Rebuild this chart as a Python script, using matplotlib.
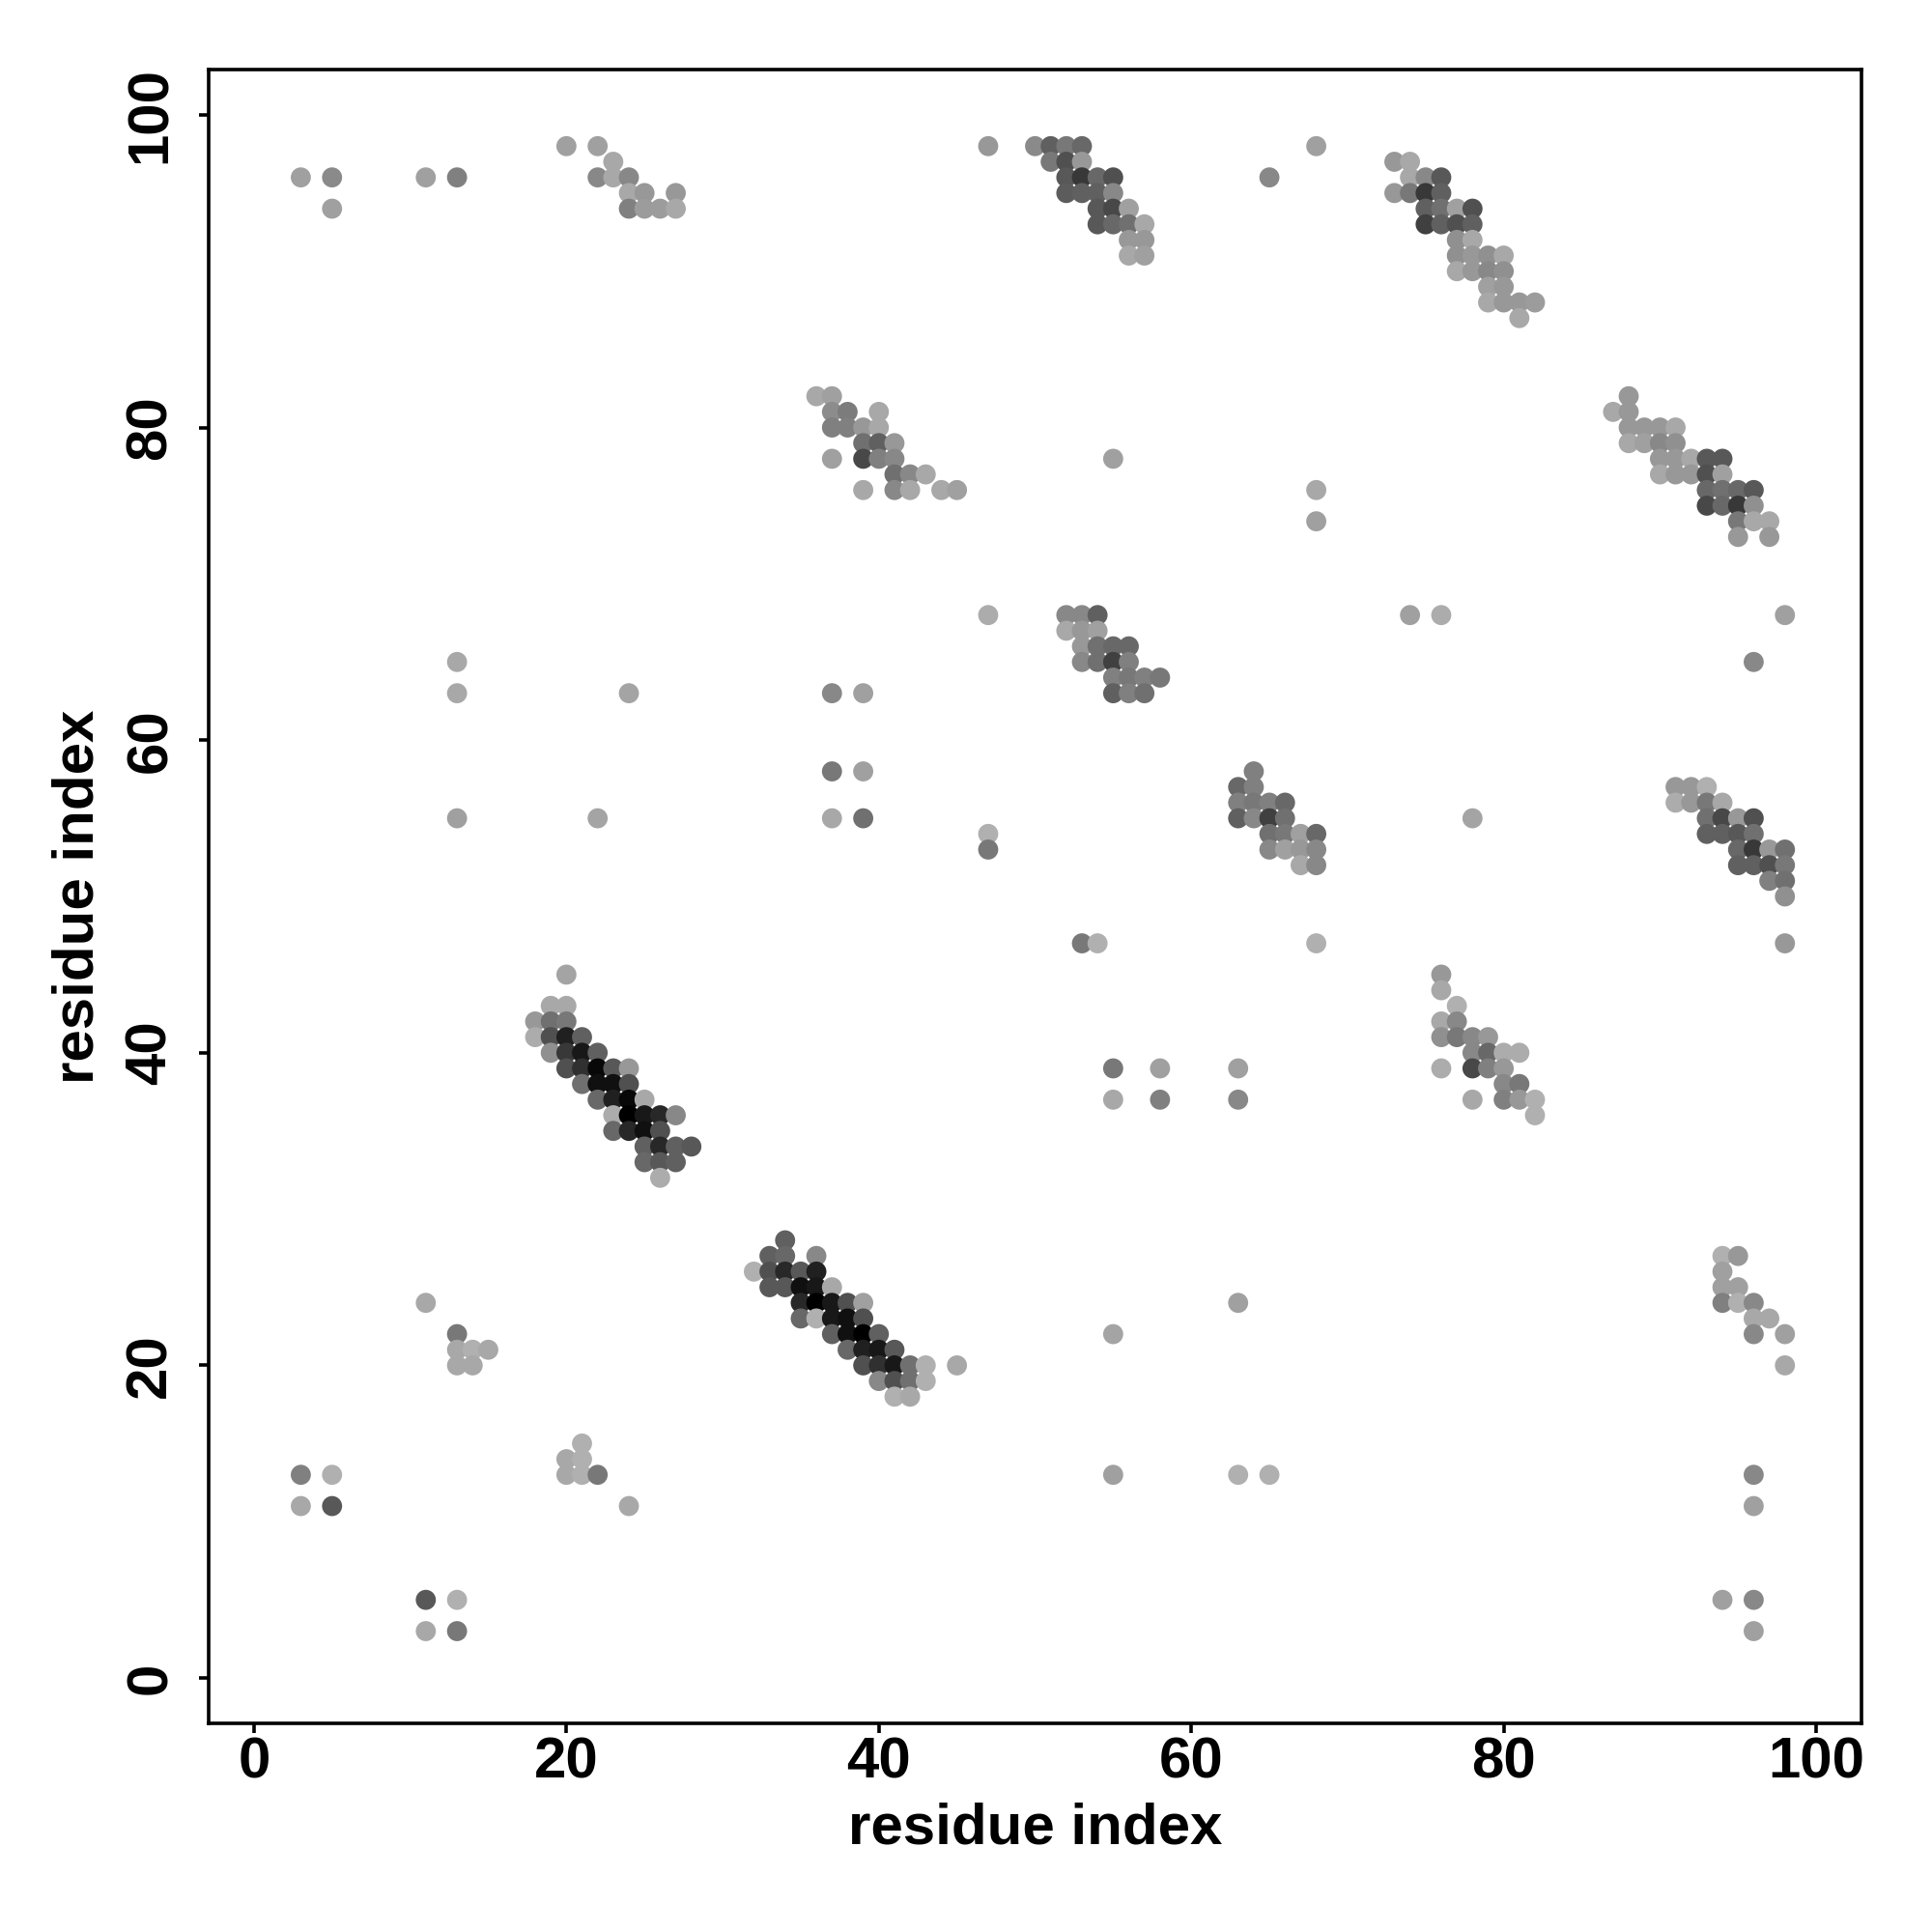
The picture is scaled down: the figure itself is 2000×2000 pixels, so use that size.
import matplotlib
matplotlib.use("Agg")
import matplotlib.pyplot as plt

# contact map: residue i (x), residue j (y), grey shade of the dot (0 = black, 255 = white)
res_i = [
    3, 5, 5, 11, 13,
    20, 22, 23, 22, 23, 24, 24, 25, 27, 24, 25, 26, 27,
    47, 50, 51, 52, 53, 51, 52, 53, 52, 53, 54, 55, 52, 53, 54, 55, 54, 55, 56, 54, 55, 56, 57, 56, 57, 56, 57, 65, 68,
    36, 37, 37, 38, 40, 37, 38, 39, 40, 39, 40, 41, 37, 39, 40, 41, 41, 42, 43, 39, 41, 42, 44, 45, 55, 68, 68,
    47, 52, 53, 54, 52, 53, 54,
    53, 54, 55, 56, 53, 54, 55, 56, 55, 56, 57, 58, 55, 56, 57,
    73, 74, 74, 75, 76, 73, 74, 75, 76, 75, 76, 77, 78, 75, 76, 77, 78, 77, 78, 77, 78, 79, 80, 77, 78, 79, 80,
    79, 80, 79, 80, 81, 82, 81,
    88, 87, 88, 88, 89, 90, 91, 88, 89, 90, 91, 90, 91, 92, 93, 94, 90, 91, 92, 93, 94, 93, 94, 95, 96,
    93, 94, 95, 96, 95, 96, 97, 95, 97, 74, 76, 98,
    13, 13, 24, 13, 22,
    20, 19, 20, 18, 19, 20, 18, 19, 20, 21, 19, 20, 21, 22, 20, 21, 22, 23, 24, 21, 22, 23, 24, 22, 23, 24, 25,
    23, 24, 25, 26, 27, 23, 24, 25, 26, 25, 26, 27, 28, 25, 26, 27, 26,
    37, 39, 37, 39, 37, 39, 47, 47,
    64, 63, 64, 63, 64, 65, 66, 63, 64, 65, 66, 65, 66, 67, 68, 65, 66, 67, 68, 67, 68,
    53, 54, 68, 55, 58, 63, 55, 58, 63,
    96, 78,
    91, 92, 93, 91, 92, 93, 94, 93, 94, 95, 96, 93, 94, 95, 96, 95, 96, 97, 98, 95, 96, 97, 98, 97, 98, 98, 98,
    76, 76, 77, 76, 77, 76, 77, 78, 79, 78, 79, 80, 81, 76, 78, 79, 80, 80, 81, 78, 80, 81, 82, 82,
    32, 33, 33, 33, 34, 34, 36, 34, 35, 36, 34, 35, 36, 37, 35, 36, 37, 38, 39, 35, 36, 37, 38, 39,
    37, 38, 39, 40, 38, 39, 40, 41, 39, 40, 41, 42, 43, 45, 40, 41, 42, 43, 41, 42,
    11, 13, 13, 14, 15, 13, 14,
    3, 5, 3, 5,
    21, 20, 21, 20, 21, 22, 24,
    11, 13, 11, 13,
    55, 63, 55, 63, 65,
    94, 95, 94, 94, 95, 94, 95, 96, 96, 97, 96, 98, 98,
    96, 96, 94, 96, 96,
]
res_j = [
    96, 96, 94, 96, 96,
    98, 98, 97, 96, 96, 96, 95, 95, 95, 94, 94, 94, 94,
    98, 98, 98, 98, 98, 97, 97, 97, 96, 96, 96, 96, 95, 95, 95, 95, 94, 94, 94, 93, 93, 93, 93, 92, 92, 91, 91, 96, 98,
    82, 82, 81, 81, 81, 80, 80, 80, 80, 79, 79, 79, 78, 78, 78, 78, 77, 77, 77, 76, 76, 76, 76, 76, 78, 76, 74,
    68, 68, 68, 68, 67, 67, 67,
    66, 66, 66, 66, 65, 65, 65, 65, 64, 64, 64, 64, 63, 63, 63,
    97, 97, 96, 96, 96, 95, 95, 95, 95, 94, 94, 94, 94, 93, 93, 93, 93, 92, 92, 91, 91, 91, 91, 90, 90, 90, 90,
    89, 89, 88, 88, 88, 88, 87,
    82, 81, 81, 80, 80, 80, 80, 79, 79, 79, 79, 78, 78, 78, 78, 78, 77, 77, 77, 77, 77, 76, 76, 76, 76,
    75, 75, 75, 75, 74, 74, 74, 73, 73, 68, 68, 68,
    65, 63, 63, 55, 55,
    45, 43, 43, 42, 42, 42, 41, 41, 41, 41, 40, 40, 40, 40, 39, 39, 39, 39, 39, 38, 38, 38, 38, 37, 37, 37, 37,
    36, 36, 36, 36, 36, 35, 35, 35, 35, 34, 34, 34, 34, 33, 33, 33, 32,
    63, 63, 58, 58, 55, 55, 54, 53,
    58, 57, 57, 56, 56, 56, 56, 55, 55, 55, 55, 54, 54, 54, 54, 53, 53, 53, 53, 52, 52,
    47, 47, 47, 39, 39, 39, 37, 37, 37,
    65, 55,
    57, 57, 57, 56, 56, 56, 56, 55, 55, 55, 55, 54, 54, 54, 54, 53, 53, 53, 53, 52, 52, 52, 52, 51, 51, 50, 47,
    45, 44, 43, 42, 42, 41, 41, 41, 41, 40, 40, 40, 40, 39, 39, 39, 39, 38, 38, 37, 37, 37, 37, 36,
    26, 27, 26, 25, 28, 27, 27, 26, 26, 26, 25, 25, 25, 25, 24, 24, 24, 24, 24, 23, 23, 23, 23, 23,
    22, 22, 22, 22, 21, 21, 21, 21, 20, 20, 20, 20, 20, 20, 19, 19, 19, 19, 18, 18,
    24, 22, 21, 21, 21, 20, 20,
    13, 13, 11, 11,
    15, 14, 14, 13, 13, 13, 11,
    5, 5, 3, 3,
    22, 24, 13, 13, 13,
    27, 27, 26, 25, 25, 24, 24, 24, 23, 23, 22, 22, 20,
    13, 11, 5, 5, 3,
]
shade = [
    0xa0, 0x8a, 0xa0, 0xa0, 0x80,
    0xa0, 0xa0, 0xa8, 0x88, 0xa8, 0x88, 0xa8, 0x98, 0x98, 0x80, 0x9c, 0x9c, 0xa8,
    0x98, 0x8a, 0x60, 0x78, 0x68, 0x78, 0x50, 0x98, 0x58, 0x38, 0x68, 0x50, 0x5c, 0x60, 0x60, 0x88, 0x58, 0x48, 0xa0,
    0x58, 0x68, 0x70, 0xa8, 0x98, 0x98, 0xa8, 0xa0, 0x88, 0xa0,
    0xa8, 0xa0, 0x8c, 0x7c, 0xa8, 0x80, 0x80, 0x98, 0xa8, 0x70, 0x60, 0x98, 0xa0, 0x48, 0x80, 0x88, 0x70, 0x88, 0xa8,
    0xa8, 0x88, 0xa8, 0xa8, 0xa0, 0xa0, 0xa8, 0xa0,
    0xac, 0x88, 0x88, 0x60, 0xa8, 0x98, 0xa0,
    0x98, 0x70, 0x68, 0x68, 0x88, 0x70, 0x40, 0x80, 0x80, 0x78, 0x80, 0x78, 0x60, 0x80, 0x70,
    0x98, 0xa8, 0xa8, 0x88, 0x58, 0x98, 0x78, 0x38, 0x60, 0x60, 0x70, 0xa0, 0x50, 0x40, 0x60, 0x50, 0x60, 0x90, 0xa8,
    0x90, 0x98, 0x90, 0xa8, 0xa8, 0x98, 0x88, 0x90,
    0xa0, 0x98, 0xa8, 0x98, 0x98, 0x9c, 0xa8,
    0x98, 0xa8, 0x98, 0x98, 0x98, 0x98, 0xa8, 0xa8, 0xa0, 0x88, 0x90, 0x98, 0x98, 0xa8, 0x58, 0x58, 0xa8, 0x98, 0x98,
    0x50, 0xa0, 0x68, 0x70, 0x68, 0x58,
    0x48, 0x68, 0x38, 0x90, 0x78, 0xa8, 0xa8, 0x98, 0x98, 0xa0, 0xac, 0xa0,
    0xa8, 0xa8, 0xa4, 0xa0, 0xa4,
    0xa4, 0xa8, 0xa8, 0x98, 0x70, 0x78, 0xac, 0x50, 0x20, 0x60, 0x90, 0x38, 0x18, 0x60, 0x50, 0x30, 0x08, 0x58, 0x98,
    0x70, 0x10, 0x10, 0x50, 0x68, 0x20, 0x08, 0xa8,
    0xac, 0x00, 0x18, 0x28, 0x88, 0x68, 0x28, 0x10, 0x50, 0x60, 0x28, 0x60, 0x58, 0x68, 0x58, 0x60, 0xac,
    0x88, 0xa0, 0x78, 0xa0, 0xa8, 0x70, 0xb0, 0x78,
    0x80, 0x68, 0x80, 0x80, 0x78, 0x80, 0x68, 0x60, 0x88, 0x40, 0x70, 0x70, 0x78, 0xa0, 0x68, 0x88, 0xa0, 0x98, 0x88,
    0xa8, 0x88,
    0x78, 0xb0, 0xb0, 0x78, 0xa0, 0xa0, 0xa8, 0x80, 0x88,
    0x88, 0xa4,
    0x98, 0x98, 0xb0, 0xac, 0x98, 0x78, 0xa8, 0x70, 0x48, 0x98, 0x50, 0x60, 0x60, 0x58, 0x70, 0x68, 0x38, 0x98, 0x70,
    0x60, 0x60, 0x50, 0x78, 0x80, 0x70, 0x90, 0x98,
    0x98, 0xa8, 0xb0, 0xa8, 0x88, 0x90, 0x78, 0x88, 0x98, 0x88, 0x68, 0xac, 0xac, 0xac, 0x48, 0x80, 0x98, 0x88, 0x78,
    0xa8, 0x80, 0x98, 0xb0, 0xb0,
    0xb0, 0x60, 0x50, 0x58, 0x60, 0x68, 0x88, 0x28, 0x58, 0x20, 0x58, 0x10, 0x18, 0xa8, 0x28, 0x00, 0x18, 0x50, 0xa0,
    0x68, 0xb0, 0x18, 0x10, 0x50,
    0x60, 0x10, 0x00, 0x60, 0x68, 0x20, 0x18, 0x58, 0x50, 0x30, 0x18, 0x70, 0xb0, 0xa8, 0x88, 0x50, 0x70, 0xb0, 0xb0, 0xa8,
    0xa8, 0x78, 0xa8, 0xb0, 0xa8, 0xa8, 0xa8,
    0x80, 0xb0, 0xa8, 0x58,
    0xb0, 0xa8, 0xb0, 0xa8, 0xb0, 0x78, 0xa8,
    0x58, 0xb0, 0xa8, 0x78,
    0xa4, 0xa0, 0xa0, 0xb0, 0xb0,
    0xb0, 0x98, 0xa0, 0xa0, 0xa0, 0x80, 0xb0, 0x88, 0xa8, 0xa8, 0x88, 0xa0, 0xa8,
    0x88, 0xa0, 0xa0, 0x88, 0xa0,
]

ticks = [0, 20, 40, 60, 80, 100]

plt.rcParams['font.family'] = ['Liberation Sans', 'DejaVu Sans']
plt.rcParams['font.weight'] = 'bold'

fig = plt.figure(figsize=(10, 10), dpi=200)
ax = fig.add_axes([0.108, 0.108, 0.8555, 0.856])

ax.scatter(res_i, res_j, c=shade, cmap='gray', vmin=0, vmax=255, s=56, linewidths=0)

ax.set_xlim(-2.9, 102.9)
ax.set_ylim(-2.9, 102.9)
ax.set_xticks(ticks)
ax.set_yticks(ticks)
ax.set_xticklabels([str(t) for t in ticks], fontsize=21.6, fontweight='bold')
ax.set_yticklabels([str(t) for t in ticks], fontsize=21.6, fontweight='bold',
                   rotation=90, va='center', ha='right')
for sp in ax.spines.values():
    sp.set_linewidth(1.3)
ax.tick_params(axis='both', length=3.6, width=1.3)
ax.tick_params(axis='x', pad=1.2)
ax.tick_params(axis='y', pad=8)

ax.set_xlabel('residue index', fontsize=21.6, fontweight='bold')
ax.set_ylabel('residue index', fontsize=21.6, fontweight='bold')
ax.xaxis.set_label_coords(0.5, -0.073)
ax.xaxis.label.set_va('baseline')
ax.yaxis.set_label_coords(-0.070, 0.5)
ax.yaxis.label.set_rotation_mode('anchor')
ax.yaxis.label.set_va('baseline')
ax.yaxis.label.set_ha('center')

fig.savefig('out.png', dpi=200)
